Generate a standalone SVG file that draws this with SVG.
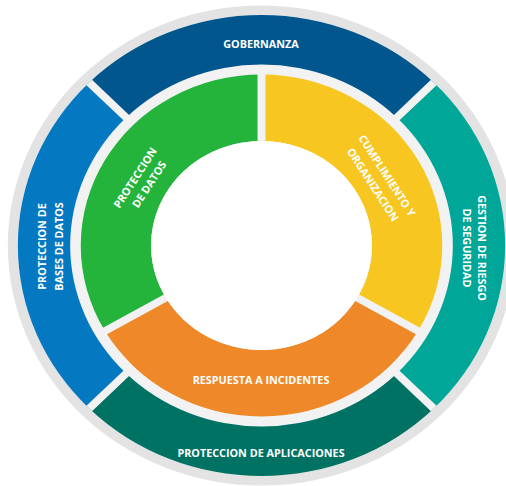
<svg xmlns="http://www.w3.org/2000/svg" width="506" height="486" viewBox="0 0 506 486">
<style>
.lbl{font-family:"Open Sans","Liberation Sans",sans-serif;font-weight:700;font-size:10.8px;fill:#ffffff;text-anchor:middle}
.div{stroke:#f2f2f2;stroke-width:7.5;fill:none}
</style>
<rect width="506" height="486" fill="#ffffff"/>
<g id="wheel" transform="translate(261.5,245.5) scale(1.057,1)">
<circle r="240" fill="#e3e3e3"/>
<circle r="230.5" fill="#f2f2f2"/>
<g id="gobernanza-seg"><path fill="#02568e" d="M-162.99,-162.99 A230.5,230.5 0 0 1 162.99,-162.99 L127.99,-127.99 A181,181 0 0 0 -127.99,-127.99 Z"/></g>
<g id="gestion-seg"><path fill="#00a698" d="M162.99,-162.99 A230.5,230.5 0 0 1 162.99,162.99 L127.99,127.99 A181,181 0 0 0 127.99,-127.99 Z"/></g>
<g id="aplicaciones-seg"><path fill="#007264" d="M162.99,162.99 A230.5,230.5 0 0 1 -162.99,162.99 L-127.99,127.99 A181,181 0 0 0 127.99,127.99 Z"/></g>
<g id="bases-seg"><path fill="#0479c1" d="M-162.99,162.99 A230.5,230.5 0 0 1 -162.99,-162.99 L-127.99,-127.99 A181,181 0 0 0 -127.99,127.99 Z"/></g>
<g id="datos-seg"><path fill="#24b43c" d="M-148.09,85.5 A171,171 0 0 1 0,-171 L0,-104.5 A104.5,104.5 0 0 0 -90.5,52.25 Z"/></g>
<g id="cumplimiento-seg"><path fill="#f8c620" d="M0,-171 A171,171 0 0 1 148.09,85.5 L90.5,52.25 A104.5,104.5 0 0 0 0,-104.5 Z"/></g>
<g id="respuesta-seg"><path fill="#ee8828" d="M148.09,85.5 A171,171 0 0 1 -148.09,85.5 L-90.5,52.25 A104.5,104.5 0 0 0 90.5,52.25 Z"/></g>
<g id="dividers">
<path class="div" d="M124.45,-124.45 L162.99,-162.99 M124.45,124.45 L162.99,162.99 M-124.45,124.45 L-162.99,162.99 M-124.45,-124.45 L-162.99,-162.99"/>
<path class="div" d="M0,-98 L0,-176 M84.87,49 L152.42,88 M-84.87,49 L-152.42,88"/>
</g>
<circle r="104.5" fill="#ffffff"/>
</g>
<g id="gobernanza"><text class="lbl" x="261" y="47.5">GOBERNANZA</text></g>
<g id="gestion" transform="translate(478,248) rotate(90)"><text class="lbl" x="0" y="0">GESTION DE RIESGO</text><text class="lbl" x="0" y="15.5">DE SEGURIDAD</text></g>
<g id="aplicaciones"><text class="lbl" x="261" y="457">PROTECCION DE APLICACIONES</text></g>
<g id="bases" transform="translate(46,246.5) rotate(-90)"><text class="lbl" x="0" y="0">PROTECCION DE</text><text class="lbl" x="0" y="17">BASES DE DATOS</text></g>
<g id="datos" transform="translate(142,181) rotate(-57)"><text class="lbl" x="-1" y="-3.6">PROTECCION</text><text class="lbl" x="1" y="11.7">DE DATOS</text></g>
<g id="cumplimiento" transform="translate(380,180) rotate(57)"><text class="lbl" x="0" y="-4.4">CUMPLIMIENTO Y</text><text class="lbl" x="0" y="12.4">ORGANIZACION</text></g>
<g id="respuesta"><text class="lbl" x="261" y="383.7">RESPUESTA A INCIDENTES</text></g>
</svg>
